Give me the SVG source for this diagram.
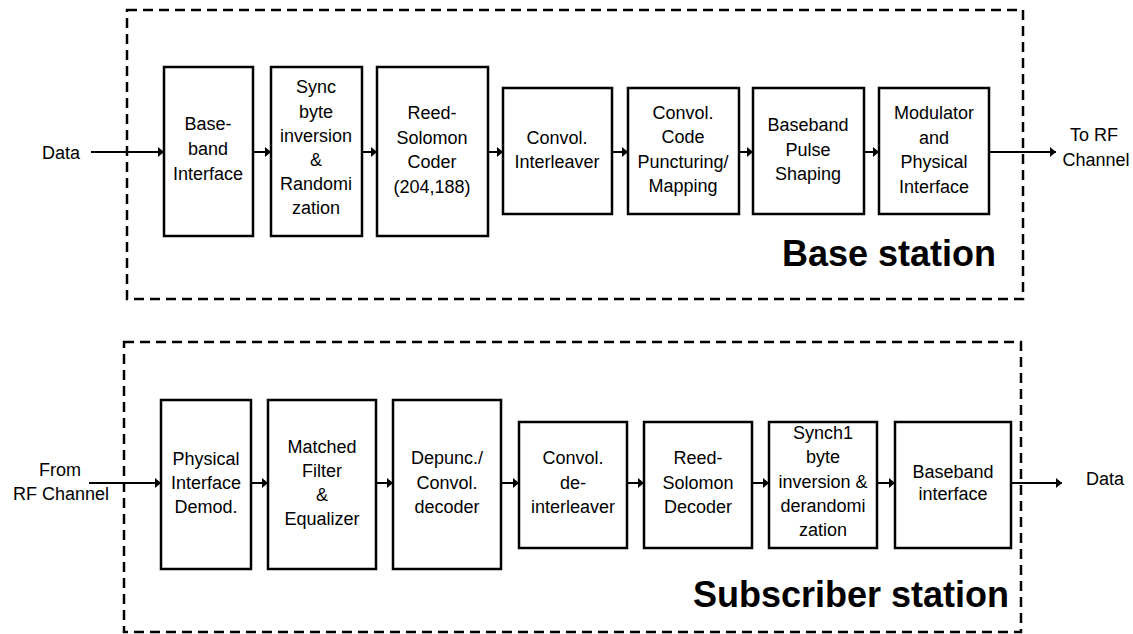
<svg xmlns="http://www.w3.org/2000/svg" width="1133" height="634" viewBox="0 0 1133 634">
  <style>
    .frame { fill: none; stroke: #000; stroke-width: 2.5; stroke-dasharray: 10 6; }
    .blk { fill: #fff; stroke: #000; stroke-width: 2.5; }
    .lbl { font-family: "Liberation Sans", Arial, sans-serif; font-size: 18px; fill: #000; text-anchor: middle; }
    .title { font-family: "Liberation Sans", Arial, sans-serif; font-size: 36px; font-weight: bold; fill: #000; text-anchor: end; }
    .wire { fill: none; stroke: #000; stroke-width: 2; marker-end: url(#arrow); }
  </style>
  <defs>
    <marker id="arrow" markerUnits="userSpaceOnUse" markerWidth="7" markerHeight="10" refX="6" refY="5" orient="auto">
      <path d="M0,0 L6,5 L0,10 z" fill="#000"/>
    </marker>
  </defs>
  <rect width="1133" height="634" fill="#fff"/>

  <!-- station outlines -->
  <g id="base-station">
    <rect class="frame" x="127" y="10" width="896" height="289"/>
    <text class="title" x="996" y="266">Base station</text>
  </g>
  <g id="subscriber-station">
    <rect class="frame" x="124" y="342" width="897" height="290"/>
    <text class="title" x="1009" y="607">Subscriber station</text>
  </g>

  <!-- transmit chain -->
  <g id="tx-baseband-interface">
    <rect class="blk" x="164" y="67" width="89" height="169"/>
    <text class="lbl"><tspan x="208" y="130">Base-</tspan><tspan x="208" y="155">band</tspan><tspan x="208" y="180">Interface</tspan></text>
  </g>
  <g id="tx-sync-randomization">
    <rect class="blk" x="271" y="67" width="91" height="169"/>
    <text class="lbl"><tspan x="316" y="93">Sync</tspan><tspan x="316" y="118">byte</tspan><tspan x="316" y="142">inversion</tspan><tspan x="316" y="166">&amp;</tspan><tspan x="316" y="190">Randomi</tspan><tspan x="316" y="214">zation</tspan></text>
  </g>
  <g id="tx-rs-coder">
    <rect class="blk" x="377" y="67" width="111" height="169"/>
    <text class="lbl"><tspan x="432" y="119">Reed-</tspan><tspan x="432" y="144">Solomon</tspan><tspan x="432" y="168">Coder</tspan><tspan x="432" y="193">(204,188)</tspan></text>
  </g>
  <g id="tx-interleaver">
    <rect class="blk" x="503" y="88" width="109" height="126"/>
    <text class="lbl"><tspan x="557" y="144">Convol.</tspan><tspan x="557" y="168">Interleaver</tspan></text>
  </g>
  <g id="tx-puncturing">
    <rect class="blk" x="628" y="88" width="111" height="126"/>
    <text class="lbl"><tspan x="683" y="119">Convol.</tspan><tspan x="683" y="143">Code</tspan><tspan x="683" y="168">Puncturing/</tspan><tspan x="683" y="192">Mapping</tspan></text>
  </g>
  <g id="tx-pulse-shaping">
    <rect class="blk" x="753" y="88" width="111" height="126"/>
    <text class="lbl"><tspan x="808" y="131">Baseband</tspan><tspan x="808" y="156">Pulse</tspan><tspan x="808" y="180">Shaping</tspan></text>
  </g>
  <g id="tx-modulator">
    <rect class="blk" x="879" y="88" width="110" height="126"/>
    <text class="lbl"><tspan x="934" y="119">Modulator</tspan><tspan x="934" y="144">and</tspan><tspan x="934" y="168">Physical</tspan><tspan x="934" y="193">Interface</tspan></text>
  </g>
  <g id="tx-in">
    <text class="lbl" x="61" y="159">Data</text>
  </g>
  <g id="tx-out">
    <text class="lbl"><tspan x="1094" y="141">To RF</tspan><tspan x="1096" y="166">Channel</tspan></text>
  </g>

  <!-- receive chain -->
  <g id="rx-demod">
    <rect class="blk" x="161" y="400" width="90" height="169"/>
    <text class="lbl"><tspan x="206" y="465">Physical</tspan><tspan x="206" y="489">Interface</tspan><tspan x="206" y="513">Demod.</tspan></text>
  </g>
  <g id="rx-equalizer">
    <rect class="blk" x="268" y="400" width="108" height="169"/>
    <text class="lbl"><tspan x="322" y="453">Matched</tspan><tspan x="322" y="477">Filter</tspan><tspan x="322" y="501">&amp;</tspan><tspan x="322" y="525">Equalizer</tspan></text>
  </g>
  <g id="rx-decoder">
    <rect class="blk" x="393" y="400" width="108" height="169"/>
    <text class="lbl"><tspan x="447" y="464">Depunc./</tspan><tspan x="447" y="489">Convol.</tspan><tspan x="447" y="513">decoder</tspan></text>
  </g>
  <g id="rx-deinterleaver">
    <rect class="blk" x="519" y="422" width="108" height="126"/>
    <text class="lbl"><tspan x="573" y="464">Convol.</tspan><tspan x="573" y="489">de-</tspan><tspan x="573" y="513">interleaver</tspan></text>
  </g>
  <g id="rx-rs-decoder">
    <rect class="blk" x="644" y="422" width="108" height="126"/>
    <text class="lbl"><tspan x="698" y="464">Reed-</tspan><tspan x="698" y="489">Solomon</tspan><tspan x="698" y="513">Decoder</tspan></text>
  </g>
  <g id="rx-derandomization">
    <rect class="blk" x="769" y="422" width="108" height="126"/>
    <text class="lbl"><tspan x="823" y="439">Synch1</tspan><tspan x="823" y="463">byte</tspan><tspan x="823" y="488">inversion &amp;</tspan><tspan x="823" y="512">derandomi</tspan><tspan x="823" y="536">zation</tspan></text>
  </g>
  <g id="rx-baseband-interface">
    <rect class="blk" x="895" y="422" width="116" height="126"/>
    <text class="lbl"><tspan x="953" y="478">Baseband</tspan><tspan x="953" y="500">interface</tspan></text>
  </g>
  <g id="rx-in">
    <text class="lbl"><tspan x="60" y="476">From</tspan><tspan x="61" y="500">RF Channel</tspan></text>
  </g>
  <g id="rx-out">
    <text class="lbl" x="1105" y="485">Data</text>
  </g>

  <!-- signal flow -->
  <g id="connectors">
    <line class="wire" x1="91" y1="152" x2="164" y2="152"/>
    <line class="wire" x1="253" y1="152" x2="271" y2="152"/>
    <line class="wire" x1="362" y1="152" x2="377" y2="152"/>
    <line class="wire" x1="488" y1="152" x2="503" y2="152"/>
    <line class="wire" x1="612" y1="152" x2="628" y2="152"/>
    <line class="wire" x1="739" y1="152" x2="753" y2="152"/>
    <line class="wire" x1="864" y1="152" x2="879" y2="152"/>
    <line class="wire" x1="989" y1="152" x2="1056" y2="152"/>

    <line class="wire" x1="89" y1="483" x2="161" y2="483"/>
    <line class="wire" x1="251" y1="483" x2="268" y2="483"/>
    <line class="wire" x1="376" y1="483" x2="393" y2="483"/>
    <line class="wire" x1="501" y1="483" x2="519" y2="483"/>
    <line class="wire" x1="627" y1="483" x2="644" y2="483"/>
    <line class="wire" x1="752" y1="483" x2="769" y2="483"/>
    <line class="wire" x1="877" y1="483" x2="895" y2="483"/>
    <line class="wire" x1="1011" y1="483" x2="1062" y2="483"/>
  </g>
</svg>
